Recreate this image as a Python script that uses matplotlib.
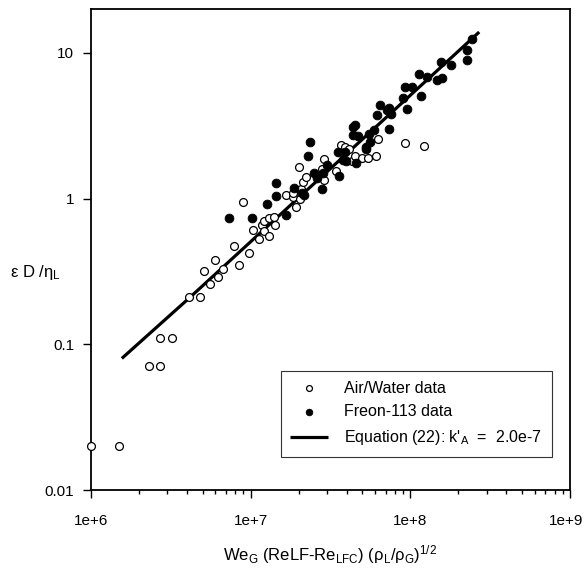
import matplotlib
matplotlib.use("Agg")
import matplotlib.pyplot as plt
import matplotlib.transforms as mtransforms
from matplotlib.ticker import FixedLocator, LogLocator, NullLocator, NullFormatter

plt.rcParams['font.family'] = ['Liberation Sans', 'DejaVu Sans']
plt.rcParams['mathtext.default'] = 'regular'

# Air/Water data (open circles)
aw_x = [1.0e6, 1.5e6, 2.3e6, 2.7e6, 2.7e6, 3.2e6, 4.1e6, 4.8e6, 5.1e6, 5.6e6,
        6.0e6, 6.2e6, 6.7e6, 7.9e6, 8.4e6, 8.9e6, 9.7e6, 1.04e7, 1.12e7, 1.17e7,
        1.21e7, 1.22e7, 1.31e7, 1.31e7, 1.43e7, 1.40e7, 1.66e7, 1.85e7, 1.92e7, 2.0e7,
        2.04e7, 2.06e7, 2.14e7, 2.22e7, 2.9e7, 2.9e7, 2.8e7, 3.4e7, 3.7e7, 3.9e7,
        4.1e7, 4.3e7, 4.5e7, 4.95e7, 5.45e7, 6.1e7, 6.3e7, 9.3e7, 1.22e8, 1.85e7]
aw_y = [0.02, 0.02, 0.071, 0.071, 0.11, 0.11, 0.21, 0.21, 0.32, 0.26,
        0.38, 0.29, 0.33, 0.47, 0.35, 0.94, 0.42, 0.61, 0.53, 0.66,
        0.60, 0.70, 0.55, 0.73, 0.66, 0.75, 1.06, 1.03, 0.88, 1.65,
        1.0, 1.17, 1.3, 1.4, 1.86, 1.34, 1.6, 1.55, 2.35, 2.25,
        2.2, 1.8, 1.95, 1.9, 1.9, 1.95, 2.55, 2.4, 2.3, 1.1]

# Freon-113 data (filled circles)
fr_x = [7.3e6, 1.02e7, 1.27e7, 1.45e7, 1.45e7, 1.66e7, 1.87e7, 2.17e7, 2.27e7, 2.35e7,
        2.5e7, 2.6e7, 2.8e7, 3.0e7, 2.85e7, 3.5e7, 3.6e7, 3.8e7, 4.4e7, 4.4e7,
        4.6e7, 2.1e7, 3.9e7, 4.5e7, 4.7e7, 5.3e7, 5.5e7, 5.9e7, 5.6e7, 6.15e7,
        6.5e7, 7.4e7, 7.4e7, 7.6e7, 7.1e7, 9.0e7, 9.25e7, 9.5e7, 1.02e8, 1.14e8,
        1.16e8, 1.28e8, 1.46e8, 1.57e8, 1.56e8, 1.79e8, 2.25e8, 2.28e8, 2.44e8, 5.3e7,
        3.97e7]
fr_y = [0.74, 0.74, 0.92, 1.04, 1.27, 0.77, 1.19, 1.05, 1.97, 2.45,
        1.5, 1.38, 1.17, 1.7, 1.5, 2.1, 1.43, 1.85, 3.1, 2.75,
        1.75, 1.1, 2.1, 3.2, 2.7, 2.27, 2.78, 2.95, 2.45, 3.75,
        4.4, 4.2, 3.0, 3.8, 4.05, 4.9, 5.85, 4.15, 5.85, 7.2,
        5.05, 6.8, 6.5, 6.7, 8.7, 8.25, 10.5, 9.0, 12.4, 2.2,
        1.8]

# Equation (22) line
eq_x = [1.56e6, 4.17e6, 6.7e7, 2.7e8]
eq_y = [0.080, 0.21, 3.42, 13.9]

x_ticks = [1e6, 1e7, 1e8, 1e9]
x_labels = ['1e+6', '1e+7', '1e+8', '1e+9']
y_ticks = [0.01, 0.1, 1, 10]
y_labels = ['0.01', '0.1', '1', '10']

fig = plt.figure(figsize=(5.84, 5.68), dpi=100)
ax = fig.add_axes([91/584, 78/568, 479/584, 481/568])

ax.plot(eq_x, eq_y, color='black', lw=2.3, solid_capstyle='butt',
        label="Equation (22): k'$_A$  =  2.0e-7", zorder=2)
ax.scatter(aw_x, aw_y, s=32, facecolor='white', edgecolor='black', linewidths=0.9,
           label='Air/Water data', zorder=3, clip_on=False)
ax.scatter(fr_x, fr_y, s=40, facecolor='black', edgecolor='black', linewidths=0.6,
           label='Freon-113 data', zorder=4)

ax.set_xscale('log')
ax.set_yscale('log')
ax.set_xlim(1e6, 1e9)
ax.set_ylim(0.01, 20)

ax.xaxis.set_major_locator(FixedLocator(x_ticks))
ax.set_xticklabels(x_labels)
ax.xaxis.set_minor_locator(LogLocator(base=10, subs=range(2, 10)))
ax.xaxis.set_minor_formatter(NullFormatter())
ax.yaxis.set_major_locator(FixedLocator(y_ticks))
ax.set_yticklabels(y_labels)
ax.yaxis.set_minor_locator(NullLocator())

ax.tick_params(axis='both', which='major', direction='out', length=6, width=1,
               labelsize=11, color='black')
ax.tick_params(axis='x', which='major', pad=11)
ax.tick_params(axis='y', which='major', pad=6)
ax.tick_params(axis='x', which='minor', direction='out', length=3, width=1)
for sp in ax.spines.values():
    sp.set_linewidth(1.3)

# keep the last x label inside the figure
last = ax.get_xticklabels()[-1]
last.set_transform(last.get_transform() +
                   mtransforms.ScaledTranslation(-4/100, 0, fig.dpi_scale_trans))

ax.set_xlabel('We$_G$ (ReLF-Re$_{LFC}$) ($ρ_L$/$ρ_G$)$^{1/2}$', fontsize=12, labelpad=11)
fig.text(10/584, 1 - 272/568, 'ε D /$η_L$', fontsize=12, va='center', ha='left')

handles, labels = ax.get_legend_handles_labels()
order = [1, 2, 0]
leg = ax.legend([handles[i] for i in order], [labels[i] for i in order],
                loc='lower right', bbox_to_anchor=(0.962, 0.069), borderaxespad=0,
                fontsize=11.5, frameon=True, fancybox=False, edgecolor='black',
                handlelength=2.4, handletextpad=1.0, markerscale=0.75,
                borderpad=0.6, labelspacing=0.55)
leg.get_frame().set_linewidth(0.8)

fig.savefig('out.png', dpi=100)
